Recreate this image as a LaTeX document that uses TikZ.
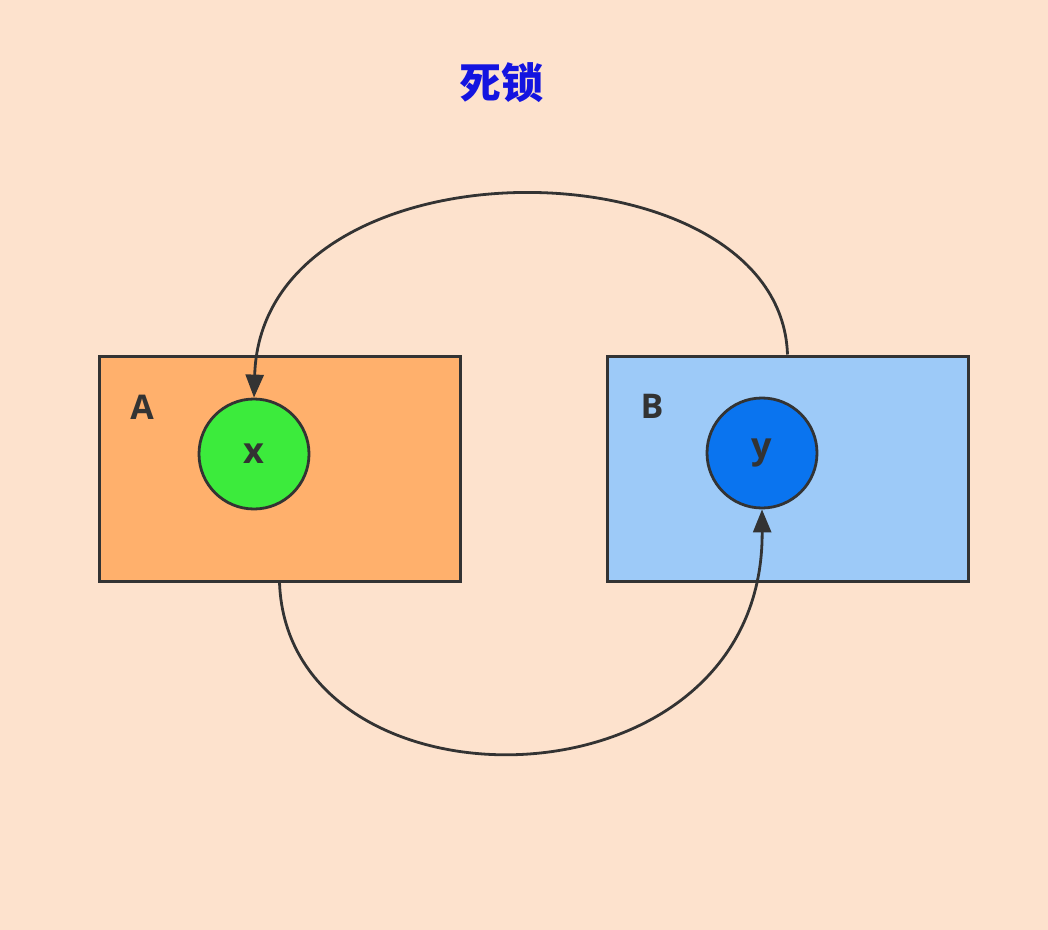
\documentclass[tikz,border=0pt]{standalone}
\usepackage{fontspec}
\setmainfont{Open Sans}
\newfontfamily\cjk{Noto Sans CJK SC}
\usetikzlibrary{arrows.meta}
\definecolor{bg}{HTML}{FDE2CD}
\definecolor{orangebox}{HTML}{FFB06C}
\definecolor{bluebox}{HTML}{9DCAF8}
\definecolor{greenc}{HTML}{3CEB3C}
\definecolor{bluec}{HTML}{0A74EF}
\definecolor{edge}{HTML}{333333}
\definecolor{titleblue}{HTML}{1414E0}
\tikzset{
  procbox/.style={draw=edge, line width=1.5pt, minimum width=180.5pt, minimum height=112.5pt, inner sep=0pt},
  res/.style={circle, draw=edge, line width=1.4pt, minimum size=55pt, inner sep=0pt, font=\fontsize{18}{21}\selectfont\bfseries, text=edge},
  lbl/.style={font=\fontsize{17}{20}\selectfont\bfseries, text=edge},
  link/.style={draw=edge, line width=1.4pt, -{Triangle[length=11.5pt,width=9pt]}},
}
\begin{document}
\begin{tikzpicture}[x=0.5pt,y=-0.5pt]
\fill[bg] (0,0) rectangle (1048,930);
\useasboundingbox (0,0) rectangle (1048,930);
\node[font=\cjk\fontsize{21}{25}\selectfont\bfseries, text=titleblue] (title) at (501,83) {死锁};
\node[procbox, fill=orangebox] (A) at (279.5,468.5) {};
\node[procbox, fill=bluebox] (B) at (787.5,468.5) {};
\node[lbl] (la) at (142,407) {A};
\node[lbl] (lb) at (652,406) {B};
\node[res, fill=greenc] (x) at (254,454) {x};
\node[res, fill=bluec] (y) at (762,453) {y};
\draw[link] (B.north) .. controls (780,138) and (262,132) .. (x.north);
\draw[link] (A.south) .. controls (288,822) and (764,818) .. (y.south);
\end{tikzpicture}
\end{document}
